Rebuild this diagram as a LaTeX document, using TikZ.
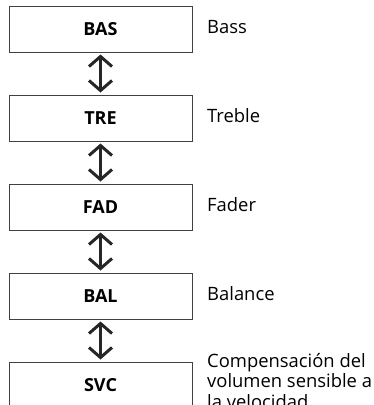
\documentclass[tikz,border=0pt]{standalone}
\usepackage{fontspec}
\setmainfont{Open Sans}
\usetikzlibrary{arrows.meta}
\begin{document}
\begin{tikzpicture}[x=1pt,y=-1pt,
  modebox/.style={draw=black!75,line width=1pt,minimum width=183pt,minimum height=46pt,inner sep=0pt,font=\fontsize{18}{20}\selectfont\bfseries},
  desc/.style={anchor=base west,inner sep=0pt,font=\fontsize{18.4}{20.5}\selectfont,align=left},
  swap/.style={line width=3pt,draw=black!85,{Straight Barb[length=10pt,width=23pt,line width=3pt]}-{Straight Barb[length=10pt,width=23pt,line width=3pt]},shorten <=2pt,shorten >=2pt}]
\useasboundingbox (0,0) rectangle (373,405);
\node[modebox] (bas) at (100.5,29) {BAS};
\node[modebox] (tre) at (100.5,118) {TRE};
\node[modebox] (fad) at (100.5,207) {FAD};
\node[modebox] (bal) at (100.5,296) {BAL};
\node[modebox] (svc) at (100.5,385) {SVC};
\draw[swap] (bas) -- (tre);
\draw[swap] (tre) -- (fad);
\draw[swap] (fad) -- (bal);
\draw[swap] (bal) -- (svc);
\node[desc] (lbas) at (207,33) {Bass};
\node[desc] (ltre) at (207,122) {Treble};
\node[desc] (lfad) at (207,211) {Fader};
\node[desc] (lbal) at (207,300) {Balance};
\node[desc] (lsvc) at (207,408) {Compensación del\\volumen sensible a\\la velocidad};
\end{tikzpicture}
\end{document}
